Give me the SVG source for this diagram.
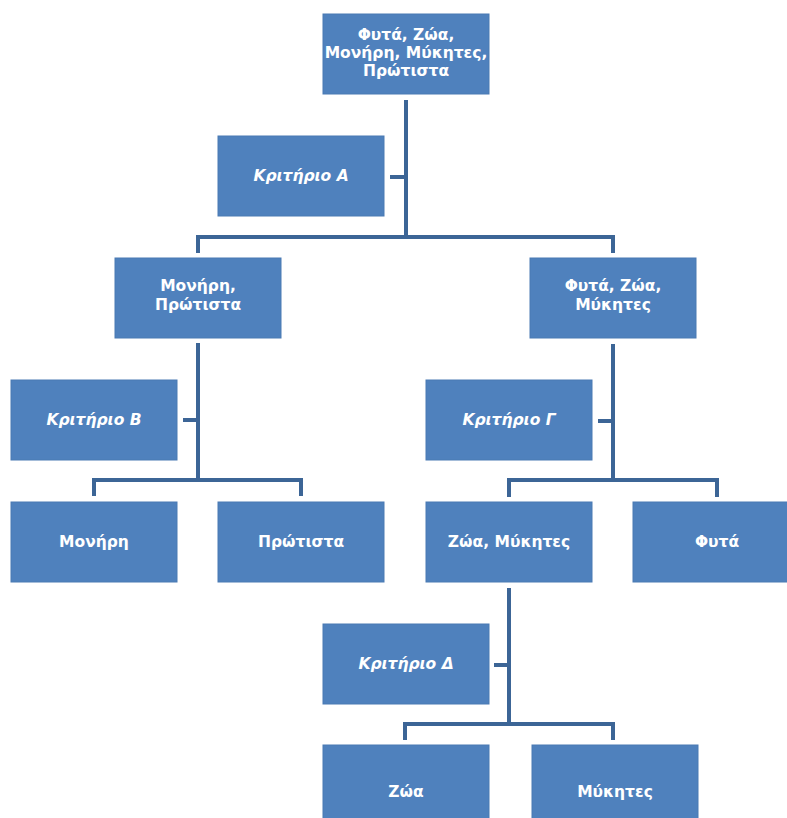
<svg xmlns="http://www.w3.org/2000/svg" width="787" height="818" viewBox="0 0 787 818">
<style>
.box{fill:#4f81bd;stroke:#4a7ab3;stroke-width:1}
.t{font-family:"DejaVu Sans","Liberation Sans",sans-serif;font-weight:bold;font-size:15.5px;fill:#ffffff;text-anchor:middle}
.i{font-style:italic}
.c{fill:none;stroke:#3c6596;stroke-width:4}
</style>
<rect width="787" height="818" fill="#ffffff"/>
<g id="connectors">
<path class="c" d="M406 100 V237"/>
<path class="c" d="M390 177 H406"/>
<path class="c" d="M198 253 V237 H613 V253"/>
<path class="c" d="M198 343 V480"/>
<path class="c" d="M183 420 H198"/>
<path class="c" d="M94 496 V480 H301 V496"/>
<path class="c" d="M613 344 V480"/>
<path class="c" d="M598 421 H613"/>
<path class="c" d="M509 497 V480 H717 V497"/>
<path class="c" d="M509 588 V724"/>
<path class="c" d="M494 665 H509"/>
<path class="c" d="M405 740 V724 H613 V740"/>
</g>
<g id="root"><rect class="box" x="323" y="14" width="166" height="80"/>
<text class="t" x="406" y="40">Φυτά, Ζώα,</text>
<text class="t" x="406" y="58">Μονήρη, Μύκητες,</text>
<text class="t" x="406" y="76">Πρώτιστα</text></g>
<g id="kritirioA"><rect class="box" x="218" y="136" width="166" height="80"/>
<text class="t i" x="301" y="181">Κριτήριο Α</text></g>
<g id="monires_protista"><rect class="box" x="115" y="258" width="166" height="80"/>
<text class="t" x="198" y="291">Μονήρη,</text>
<text class="t" x="198" y="310">Πρώτιστα</text></g>
<g id="fyta_zoa_mykites"><rect class="box" x="530" y="258" width="166" height="80"/>
<text class="t" x="613" y="291">Φυτά, Ζώα,</text>
<text class="t" x="613" y="310">Μύκητες</text></g>
<g id="kritirioB"><rect class="box" x="11" y="380" width="166" height="80"/>
<text class="t i" x="94" y="425">Κριτήριο Β</text></g>
<g id="kritirioG"><rect class="box" x="426" y="380" width="166" height="80"/>
<text class="t i" x="509" y="425">Κριτήριο Γ</text></g>
<g id="monires"><rect class="box" x="11" y="502" width="166" height="80"/>
<text class="t" x="94" y="547">Μονήρη</text></g>
<g id="protista"><rect class="box" x="218" y="502" width="166" height="80"/>
<text class="t" x="301" y="547">Πρώτιστα</text></g>
<g id="zoa_mykites"><rect class="box" x="426" y="502" width="166" height="80"/>
<text class="t" x="509" y="547">Ζώα, Μύκητες</text></g>
<g id="fyta"><rect class="box" x="633" y="502" width="166" height="80"/>
<text class="t" x="717" y="547">Φυτά</text></g>
<g id="kritirioD"><rect class="box" x="323" y="624" width="166" height="80"/>
<text class="t i" x="406" y="669">Κριτήριο Δ</text></g>
<g id="zoa"><rect class="box" x="323" y="745" width="166" height="80"/>
<text class="t" x="406" y="797">Ζώα</text></g>
<g id="mykites"><rect class="box" x="532" y="745" width="166" height="80"/>
<text class="t" x="615" y="797">Μύκητες</text></g>
</svg>
